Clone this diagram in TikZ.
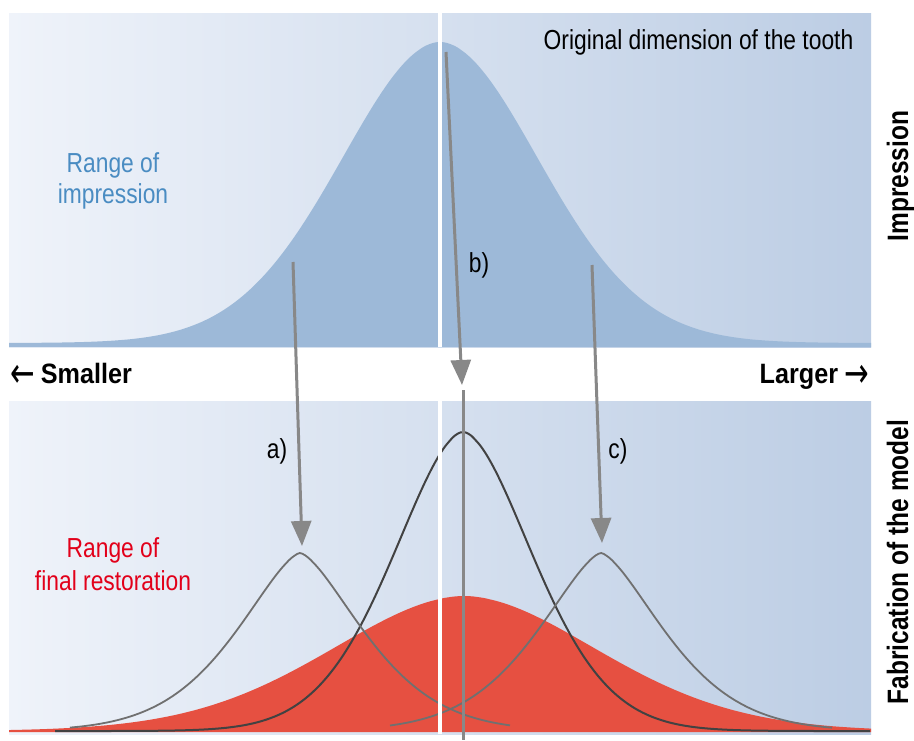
\documentclass[tikz,border=0pt]{standalone}
\usepackage{fontspec}
\setmainfont{Liberation Sans}
\newfontfamily\condreg[FakeStretch=0.83]{Liberation Sans}
\newfontfamily\condbold[FakeStretch=0.9]{Liberation Sans}
\newfontfamily\sidebold[FakeStretch=0.83]{Liberation Sans}
\newfontfamily\arrowfont[FakeStretch=0.7]{DejaVu Sans}
\usetikzlibrary{arrows.meta}
\definecolor{panelL}{RGB}{239,243,250}
\definecolor{panelR}{RGB}{188,205,228}
\definecolor{blueFill}{RGB}{157,185,216}
\definecolor{redFill}{RGB}{230,80,65}
\definecolor{blueText}{RGB}{74,140,194}
\definecolor{redText}{RGB}{226,0,26}
\definecolor{arrowGray}{RGB}{136,136,136}
\definecolor{curveGray}{RGB}{112,112,112}
\definecolor{curveDark}{RGB}{66,66,66}
\newcommand{\bigarrow}[1]{{\arrowfont\mdseries\fontsize{42}{42}\selectfont\raisebox{-4pt}{#1}}}
\begin{document}
\begin{tikzpicture}[x=1pt,y=-1pt,
  reg/.style={font=\condreg\fontsize{27.5}{30}\selectfont, inner sep=0pt},
  boldtxt/.style={font=\condbold\bfseries\fontsize{28}{30}\selectfont, inner sep=0pt},
  sidetxt/.style={font=\sidebold\bfseries\fontsize{29.5}{32}\selectfont, inner sep=0pt, rotate=90, anchor=base},
  arr/.style={draw=arrowGray, line width=3pt, -{Triangle[length=25pt,width=20pt]}},
  smallcurve/.style={draw=curveGray, line width=1.8pt},
  bigcurve/.style={draw=curveDark, line width=2pt},
  divider/.style={fill=white}
]
\useasboundingbox (0,0) rectangle (914,740);
\fill[white] (0,0) rectangle (914,740);
% panels
\shade[left color=panelL, right color=panelR] (9,13) rectangle (871,347);
\shade[left color=panelL, right color=panelR] (9,401) rectangle (871,734);
% blue impression distribution
\fill[blueFill] (9,347) -- plot[domain=9:871, samples=220, smooth] (\x,{343-301*exp(-(((abs(\x-440)+0.001)/142.5)^1.9))}) -- (871,347) -- cycle;
% red final restoration distribution
\fill[redFill] (9,732) -- plot[domain=9:871, samples=220, smooth] (\x,{731-135*exp(-(((abs(\x-464)+0.001)/192)^1.85))}) -- (871,732) -- cycle;
% model curves
\draw[bigcurve] plot[domain=55:870, samples=220, smooth] (\x,{731-299*exp(-(((abs(\x-463)+0.001)/100)^1.75))});
\draw[smallcurve] plot[domain=70:510, samples=160, smooth] (\x,{731-178*exp(-(((abs(\x-300)+0.001)/92)^1.5))});
\draw[smallcurve] plot[domain=390:832, samples=160, smooth] (\x,{731-178*exp(-(((abs(\x-601)+0.001)/92)^1.5))});
% white dividers
\fill[divider] (438,13) rectangle (442,347);
\fill[divider] (438,401) rectangle (442,734);
% vertical reference line
\coordinate (vT) at (463,390);
\coordinate (vB) at (463,740);
\draw[draw=arrowGray, line width=3pt] (vT) -- (vB);
% arrows
\coordinate (aS) at (293,262);
\coordinate (aE) at (302,546);
\coordinate (bS) at (446,52);
\coordinate (bE) at (462,385);
\coordinate (cS) at (592,265);
\coordinate (cE) at (602,543);
\draw[arr] (aS) -- (aE);
\draw[arr] (bS) -- (bE);
\draw[arr] (cS) -- (cE);
% texts
\node[reg, anchor=base] (orig) at (698.5,49) {Original dimension of the tooth};
\node[reg, anchor=base, text=blueText] (imp1) at (113,172) {Range of};
\node[reg, anchor=base, text=blueText] (imp2) at (113,203) {impression};
\node[reg, anchor=base, text=redText] (fin1) at (113,557) {Range of};
\node[reg, anchor=base, text=redText] (fin2) at (113,590) {final restoration};
\node[reg, anchor=base] (la) at (277,458) {a)};
\node[reg, anchor=base] (lb) at (479,272) {b)};
\node[reg, anchor=base] (lc) at (618,458) {c)};
\node[boldtxt, anchor=base west] (small) at (10,383) {\bigarrow{←}\hspace{6pt}Smaller};
\node[boldtxt, anchor=base east] (large) at (869,383) {Larger\hspace{6pt}\bigarrow{→}};
\node[sidetxt] (sideImp) at (908,176) {Impression};
\node[sidetxt] (sideFab) at (908,562) {Fabrication of the model};
\end{tikzpicture}
\end{document}
